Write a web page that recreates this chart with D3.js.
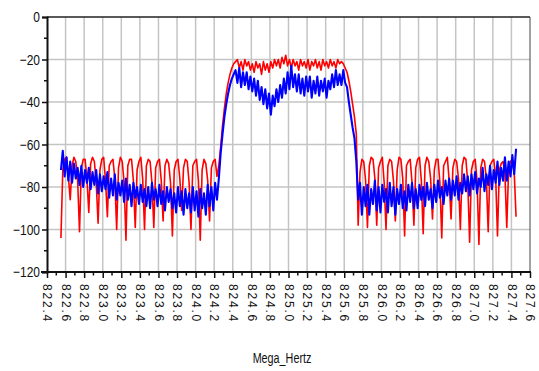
<!DOCTYPE html>
<html><head><meta charset="utf-8">
<script src="https://cdn.jsdelivr.net/npm/d3@7/dist/d3.min.js"></script>
<style>body{margin:0;background:#fff}</style>
</head><body><svg id="c" width="539" height="371"></svg>
<script>
// ---- data ----
const xTickLabels = ["822.4","822.6","822.8","823.0","823.2","823.4","823.6","823.8","824.0","824.2","824.4","824.6","824.8","825.0","825.2","825.4","825.6","825.8","826.0","826.2","826.4","826.6","826.8","827.0","827.2","827.4","827.6"];
const yTickValues = [0,-20,-40,-60,-80,-100,-120];
const xAxisTitle = "Mega_Hertz";
const sampleStartMHz = 822.55, sampleStepMHz = 0.02;

const redTrace = [
-104,-72,-67,-66,-75, -86,-70,-66,-68,-77, -101,-71,-67,-67,-76, -92,-69,-66,-68,-78,
-97,-72,-67,-66,-77, -94,-70,-68,-67,-76, -100,-71,-66,-68,-78, -105,-70,-67,-67,-77,
-99,-72,-68,-66,-76, -100,-70,-67,-68,-78, -99,-71,-68,-67,-77, -96,-70,-67,-69,-78,
-103,-72,-68,-67,-76, -91,-71,-67,-68,-78, -100,-70,-68,-67,-77, -105,-72,-67,-69,-77,
-96,-71,-68,-67,-75,
-70,-61,-51,-43,-36,-31,-27,-24,-22,-21,
-20,-24,-21,-25,-20, -23,-21,-25,-22,-26, -21,-24,-22,-27,-21, -25,-22,-26,-21,-24,
-20,-23,-20,-24,-19, -22,-18,-23,-20,-24, -20,-23,-21,-25,-20, -23,-21,-24,-20,-25,
-21,-23,-20,-24,-21, -25,-20,-23,-21,-24, -20,-23,-21,-24,-20,
-22,-21,-22,-24,-26,-30,-35,-41,-47,-55,
-98,-73,-67,-68,-77, -99,-70,-66,-67,-76, -98,-71,-68,-66,-78, -100,-70,-67,-68,-77,
-96,-72,-66,-67,-76, -103,-70,-68,-67,-78, -98,-71,-67,-66,-77, -102,-70,-66,-68,-76,
-95,-72,-67,-67,-78, -104,-70,-68,-66,-77, -95,-71,-67,-68,-76, -100,-70,-66,-67,-78,
-106,-72,-68,-67,-77, -107,-71,-67,-68,-76, -101,-70,-68,-67,-75, -103,-72,-69,-68,-74,
-99,-71,-68,-67,-73, -94
];

const blueTrace = [
-72,-63,-75,-66,-77,-68,
-78,-69,-76,-71,-79, -70,-80,-72,-78,-71, -81,-73,-79,-72,-83, -74,-82,-75,-81,-73,
-85,-76,-84,-74,-86, -78,-84,-77,-87,-76, -86,-79,-89,-78,-85, -80,-88,-79,-87,-81,
-89,-80,-90,-78,-86, -81,-89,-79,-88,-82, -91,-80,-87,-81,-90, -83,-92,-80,-89,-82,
-93,-81,-90,-83,-92, -80,-91,-82,-94,-81, -90,-83,-93,-79,-89,
-80,-91,-78,-86,
-76,-64,-55,-47,-41,-36,-32,-29,-27,-25,
-31,-24,-33,-26,-32, -26,-34,-28,-35,-29, -37,-30,-39,-33,-41, -34,-43,-36,-46,-37,
-42,-34,-40,-32,-38, -29,-36,-26,-34,-23, -33,-27,-35,-27,-36, -29,-37,-28,-35,-28,
-38,-30,-36,-28,-37, -30,-35,-29,-38,-30, -34,-27,-33,-25,-32,
-27,-32,-25,-31,-33,-40,-46,-52,-57,-68,
-86,-78,-93,-80,-89, -79,-93,-81,-88,-77, -91,-80,-92,-79,-87, -81,-92,-78,-89,-80,
-93,-81,-88,-79,-90, -82,-91,-79,-87,-78, -90,-81,-90,-79,-86, -80,-89,-78,-86,-81,
-90,-79,-87,-77,-85, -80,-88,-77,-84,-76, -86,-77,-84,-75,-86, -78,-83,-74,-82,-75,
-84,-74,-81,-73,-83, -76,-80,-71,-82,-74, -79,-70,-81,-72,-78, -68,-79,-71,-77,-66,
-77,-68,-75,-65,-74, -62
];

// ---- chart ----
const svg = d3.select("#c");
const L = 47, R = 530, T = 17, B = 272;
const xMin = +xTickLabels[0], xMax = +xTickLabels[xTickLabels.length-1];
const x = d3.scaleLinear().domain([xMin, xMax]).range([L, R]);
const y = d3.scaleLinear().domain([-120, 0]).range([B, T]);
const freqs = redTrace.map((_, i) => +(sampleStartMHz + sampleStepMHz * i).toFixed(2));
const majorX = xTickLabels.map(Number);
const minorX = d3.range(xTickLabels.length - 1).map(i => +((majorX[i] + majorX[i+1]) / 2).toFixed(2));
const minorY = d3.range(yTickValues.length - 1).map(i => (yTickValues[i] + yTickValues[i+1]) / 2);

const sans = "'Liberation Sans',Arial,sans-serif";

// grid
const g = svg.append("g");
g.selectAll(".vg").data(majorX.slice(1, -1)).enter().append("line")
  .attr("x1", d => x(d)).attr("x2", d => x(d)).attr("y1", T).attr("y2", B)
  .attr("stroke", "#c4c4c4").attr("stroke-width", 1.5);
g.selectAll(".hg").data(yTickValues.slice(1, -1)).enter().append("line")
  .attr("x1", L).attr("x2", R).attr("y1", d => y(d)).attr("y2", d => y(d))
  .attr("stroke", "#c4c4c4").attr("stroke-width", 1.5);

// traces
const line = d3.line().x((d, i) => x(freqs[i])).y(d => y(d));
svg.append("path").datum(redTrace).attr("d", line)
  .attr("fill", "none").attr("stroke", "#ff0000").attr("stroke-width", 1.6).attr("stroke-linejoin", "round");
svg.append("path").datum(blueTrace).attr("d", line)
  .attr("fill", "none").attr("stroke", "#0000ff").attr("stroke-width", 2.1).attr("stroke-linejoin", "round");

// frame
svg.append("line").attr("x1", L).attr("x2", R).attr("y1", T).attr("y2", T).attr("stroke", "#222").attr("stroke-width", 1.5);
svg.append("line").attr("x1", R).attr("x2", R).attr("y1", T).attr("y2", B).attr("stroke", "#444").attr("stroke-width", 1);

// y axis
const yAxis = d3.axisLeft(y).tickValues(yTickValues).tickSize(5).tickPadding(3).tickFormat(d3.format("d"));
const ya = svg.append("g").attr("transform", `translate(${L},0)`).call(yAxis);
ya.select(".domain").attr("stroke", "#111").attr("stroke-width", 2);
ya.selectAll(".tick line").attr("stroke", "#111").attr("stroke-width", 1.5);
ya.selectAll("text").attr("font-family", sans).attr("font-size", 15).attr("fill", "#111")
  .attr("x", 0).attr("transform", "translate(-7,0) scale(0.8,1)");
svg.append("g").selectAll("line").data(minorY).enter().append("line")
  .attr("x1", L - 3).attr("x2", L).attr("y1", d => y(d)).attr("y2", d => y(d))
  .attr("stroke", "#111").attr("stroke-width", 1.5);

// x axis
const xAxis = d3.axisBottom(x).tickValues(majorX).tickSize(6).tickFormat((d, i) => xTickLabels[i]);
const xa = svg.append("g").attr("transform", `translate(0,${B})`).call(xAxis);
xa.select(".domain").attr("d", `M${L-6},0H${R+1}`).attr("stroke", "#111").attr("stroke-width", 2);
xa.selectAll(".tick line").attr("stroke", "#111").attr("stroke-width", 1.5);
xa.selectAll("text")
  .attr("font-family", sans).attr("font-size", 12).attr("fill", "#111")
  .attr("letter-spacing", "1.8px")
  .attr("text-anchor", "start")
  .attr("transform", "rotate(90)")
  .attr("x", 12).attr("y", 0).attr("dy", "0.36em");
svg.append("g").selectAll("line").data(minorX).enter().append("line")
  .attr("x1", d => x(d)).attr("x2", d => x(d)).attr("y1", B).attr("y2", B + 3.5)
  .attr("stroke", "#111").attr("stroke-width", 1.5);

// title
svg.append("text").attr("text-anchor", "middle")
  .attr("transform", "translate(282,363) scale(0.72,1)")
  .attr("font-family", sans).attr("font-size", 15).attr("fill", "#111").text(xAxisTitle);
</script></body></html>
